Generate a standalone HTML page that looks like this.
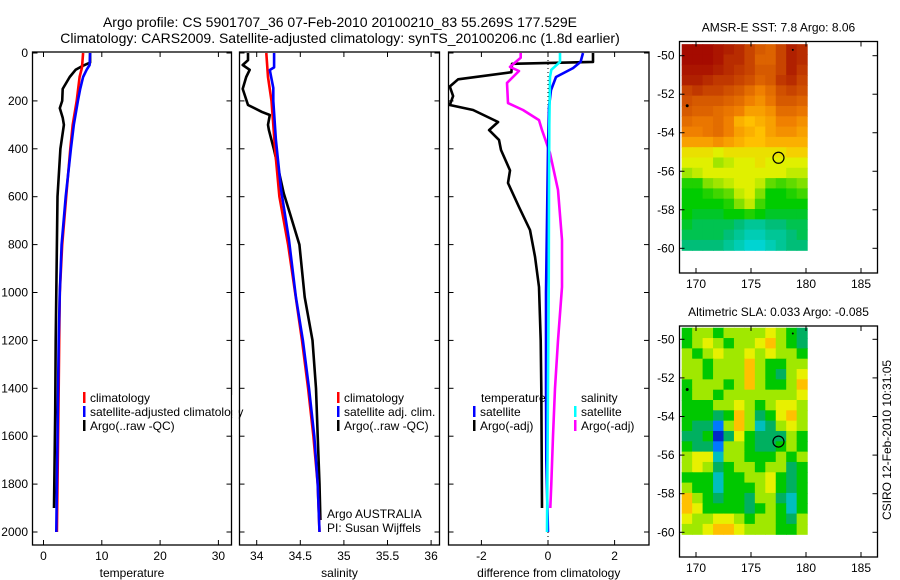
<!DOCTYPE html>
<html><head><meta charset="utf-8">
<style>
body{margin:0;background:#fff;}
svg{display:block;font-family:"Liberation Sans",sans-serif;}
text{fill:#000;}
</style></head>
<body>
<svg id="fig" width="900" height="580" viewBox="0 0 900 580">
<text x="340" y="27" font-size="14" text-anchor="middle">Argo profile: CS 5901707_36 07-Feb-2010 20100210_83 55.269S 177.529E</text>
<text x="340" y="43" font-size="14" text-anchor="middle">Climatology: CARS2009. Satellite-adjusted climatology: synTS_20100206.nc (1.8d earlier)</text>
<g id="g"></g>
</svg>
<script>
// ---------- data ----------
const depthTicks=[0,200,400,600,800,1000,1200,1400,1600,1800,2000];
const tempTicks=[0,10,20,30];
const salTicks=[34,34.5,35,35.5,36];
const diffTicks=[-2,0,2];
const lonTicks=[170,175,180,185];
const latTicks=[-50,-52,-54,-56,-58,-60];

const tClimD=[0,60,100,200,300,400,600,800,1000,1200,1400,1600,1800,2000];
const tClimV=[6.8,6.6,6.2,5.7,5.0,4.6,3.9,3.2,2.8,2.7,2.6,2.5,2.4,2.3];
const tSatD=[0,50,70,100,150,200,300,400,600,800,1000,1200,1400,1600,1800,2000];
const tSatV=[8.0,7.9,7.4,6.8,6.3,5.9,5.2,4.7,3.8,3.1,2.8,2.6,2.5,2.4,2.3,2.2];
const tArgoD=[0,40,55,70,100,150,200,230,270,300,400,600,800,1000,1200,1500,1700,1900];
const tArgoV=[8.0,8.0,6.6,5.5,4.5,3.3,3.2,2.8,3.3,3.5,2.9,2.4,2.3,2.2,2.1,2.0,1.9,1.8];

const sClimD=[0,100,200,300,400,600,800,1000,1200,1400,1600,1800,2000];
const sClimV=[34.11,34.13,34.17,34.19,34.21,34.26,34.36,34.44,34.52,34.59,34.65,34.70,34.72];
const sSatD=[0,60,71,146,200,363,572,781,1019,1200,1400,1600,1800,2000];
const sSatV=[34.20,34.20,34.15,34.19,34.19,34.22,34.28,34.37,34.45,34.53,34.60,34.66,34.70,34.72];
const sArgoD=[0,30,50,70,100,150,217,246,259,300,322,405,585,668,800,1019,1200,1400,1600,1800,1950];
const sArgoV=[33.90,33.90,33.84,33.92,33.88,33.84,33.90,34.06,34.15,34.13,34.14,34.20,34.31,34.38,34.49,34.55,34.64,34.68,34.70,34.72,34.73];

const dTSatD=[0,37,63,100,155,225,400,700,1000,1400,1700,2000];
const dTSatV=[1.05,0.98,0.75,0.24,0.09,0.03,0.0,-0.03,-0.06,-0.06,-0.05,0.0];
const dTArgoD=[0,37,45,80,110,140,180,217,238,288,322,363,405,490,543,643,739,850,977,1200,1400,1900];
const dTArgoV=[1.35,1.35,-1.08,-1.1,-2.7,-2.95,-2.85,-2.95,-2.25,-1.5,-1.77,-1.47,-1.41,-1.14,-1.2,-0.87,-0.54,-0.39,-0.27,-0.22,-0.2,-0.18];
const dSSatD=[0,37,70,100,300,600,1000,1400,2000];
const dSSatV=[0.36,0.36,0.1,0.06,0.04,0.03,0.02,0.0,-0.03];
const dSArgoD=[0,20,58,75,125,209,238,280,322,418,572,781,977,1200,1400,1600,1800,1900];
const dSArgoV=[-0.82,-0.82,-1.14,-0.87,-1.23,-1.2,-0.75,-0.27,-0.18,0.06,0.3,0.42,0.42,0.3,0.21,0.15,0.1,0.07];

const sstGrid=[
[9.5,9.5,9.5,9.4,9.3,9.2,9.0,8.8,8.7,9.0,9.3,9.2],
[9.5,9.5,9.5,9.4,9.2,9.2,9.0,8.7,8.7,9.0,9.3,9.2],
[9.4,9.4,9.4,9.3,9.2,9.1,9.0,8.8,8.8,9.0,9.3,9.1],
[9.3,9.3,9.2,9.1,9.1,9.0,8.9,8.7,8.8,9.1,9.2,9.0],
[9.0,9.1,9.0,9.0,8.9,8.8,8.6,8.4,8.6,8.9,9.0,8.9],
[8.9,8.8,8.8,8.8,8.7,8.6,8.4,8.3,8.5,8.8,8.8,8.7],
[8.8,8.7,8.7,8.6,8.5,8.4,8.2,8.2,8.3,8.6,8.6,8.5],
[8.6,8.5,8.5,8.6,8.4,8.1,8.0,8.1,8.2,8.4,8.4,8.3],
[8.4,8.4,8.5,8.6,8.4,8.2,8.1,8.0,8.2,8.3,8.3,8.2],
[8.2,8.2,8.2,8.3,8.2,8.1,8.0,8.0,8.1,8.1,8.1,8.1],
[7.8,7.8,7.8,7.7,7.8,7.8,7.8,7.8,7.8,7.8,7.9,7.9],
[7.7,7.7,7.7,7.5,7.6,7.7,7.7,7.8,7.7,7.7,7.7,7.7],
[7.5,7.6,7.7,7.7,7.7,7.7,7.7,7.7,7.7,7.7,7.6,7.6],
[7.1,7.1,7.4,7.5,7.6,7.7,7.7,7.6,7.3,7.2,7.3,7.4],
[7.0,7.0,7.1,7.2,7.3,7.6,7.7,7.4,7.0,7.0,7.1,7.2],
[7.0,7.0,7.0,7.0,7.1,7.4,7.6,7.2,7.0,7.0,7.0,7.0],
[7.0,6.9,6.9,6.9,7.0,7.0,7.1,7.0,6.9,6.9,6.9,6.9],
[6.9,6.8,6.8,6.8,6.8,6.7,6.6,6.6,6.7,6.7,6.8,6.8],
[6.8,6.8,6.8,6.8,6.7,6.6,6.5,6.5,6.6,6.6,6.7,6.8],
[6.7,6.7,6.7,6.7,6.6,6.5,6.4,6.4,6.5,6.6,6.7,6.7]];
const slaGrid=[
[0,1,1,0,1,1,1,1,2,1,0,-1],
[0,1,2,1,0,1,1,2,3,1,0,-1],
[1,0,1,2,1,1,2,1,2,1,1,0],
[1,1,0,1,1,1,3,1,0,0,1,1],
[1,1,0,1,1,1,3,1,0,-1,1,2],
[0,1,1,1,0,1,3,1,0,0,1,3],
[0,1,1,0,1,1,1,1,1,1,1,2],
[0,0,0,1,1,2,1,0,1,2,2,1],
[0,0,0,-1,0,3,1,-1,0,2,3,1],
[0,-1,-1,-3,1,3,1,-2,-1,1,2,1],
[-1,-1,0,-4,-1,2,0,-1,-1,-1,1,0],
[0,-1,-1,-3,1,1,0,-1,-1,0,1,0],
[1,2,2,-2,1,1,0,0,0,1,0,1],
[1,2,1,-1,0,1,1,0,1,1,-1,0],
[0,0,0,-2,0,0,1,1,2,0,-1,0],
[1,0,0,-2,0,0,0,1,2,0,-1,0],
[3,1,0,-1,0,0,-1,1,1,-1,-2,0],
[3,2,0,0,0,0,-1,0,1,0,-2,0],
[2,1,1,2,2,1,0,1,1,0,-1,1],
[1,1,2,3,3,2,1,1,1,0,0,1]];
const gridLon=[168.7,180.1];
const gridLat=[-49.4,-60.1];
const argoLon=177.5, argoLat=-55.3;

// ---------- helpers ----------
const NS='http://www.w3.org/2000/svg';
const G=document.getElementById('g');
function mk(tag,attrs,parent){const e=document.createElementNS(NS,tag);for(const k in attrs)e.setAttribute(k,attrs[k]);(parent||G).appendChild(e);return e;}
function txt(x,y,s,size,anchor,parent){const t=mk('text',{x:x,y:y,'font-size':size,'text-anchor':anchor||'start'},parent);t.textContent=s;return t;}
const yD=d=>53+0.2395*d;
const PT=52,PB=545;

function panel(name,x0,x1,xf,ticks,fmt,label){
  const g=mk('g',{});
  
  
  const fr=mk('rect',{x:x0,y:PT,width:x1-x0,height:PB-PT,fill:'none',stroke:'#000','stroke-width':1.3},g);
  
  
  ticks.forEach(v=>{const x=xf(v);
    mk('line',{x1:x,y1:PB,x2:x,y2:PB-5,stroke:'#000'},g);
    mk('line',{x1:x,y1:PT,x2:x,y2:PT+5,stroke:'#000'},g);
    const t=txt(x,560,fmt(v),12,'middle',g);
    
    
  });
  depthTicks.forEach(d=>{const y=yD(d);
    mk('line',{x1:x0,y1:y,x2:x0+5,y2:y,stroke:'#000'},g);
    mk('line',{x1:x1,y1:y,x2:x1-5,y2:y,stroke:'#000'},g);
  });
  const l=txt((x0+x1)/2,577,label,12,'middle',g);
  
  
  return g;
}
function series(g,name,D,V,xf,color,w){
  let p='';
  D.forEach((d,i)=>{p+=(i?'L':'M')+xf(V[i]).toFixed(1)+' '+yD(d).toFixed(1);});
  const e=mk('path',{d:p,fill:'none',stroke:color,'stroke-width':w||2.6,'stroke-linejoin':'round'},g);
  
  
}
function legend(g,x,y,color,label,name){
  if(color){const b=mk('rect',{x:x,y:y-10,width:2.5,height:11,fill:color},g);
    
    }
  const t=txt(x+7,y,label,12,'start',g);
  
  
}

// depth labels
depthTicks.forEach(d=>{const t=txt(28,yD(d)+4,String(d),12,'end');
  
  });

// temperature
const xT=v=>43.5+5.83*v;
const gT=panel('temperature',32.5,231.5,xT,tempTicks,String,'temperature');
series(gT,'temp-argo-line',tArgoD,tArgoV,xT,'#000');
series(gT,'temp-climatology-line',tClimD,tClimV,xT,'#f00');
series(gT,'temp-satellite-line',tSatD,tSatV,xT,'#00f');
legend(gT,83,402,'#f00','climatology','temp-legend-climatology');
legend(gT,83,416,'#00f','satellite-adjusted climatology','temp-legend-satellite');
legend(gT,83,430,'#000','Argo(..raw -QC)','temp-legend-argo');
mk('rect',{x:232.2,y:395,width:6.6,height:40,fill:'#fff'},G);

// salinity
const xS=v=>256.7+87.2*(v-34);
const gS=panel('salinity',239.5,439.5,xS,salTicks,String,'salinity');
series(gS,'sal-argo-line',sArgoD,sArgoV,xS,'#000');
series(gS,'sal-climatology-line',sClimD,sClimV,xS,'#f00');
series(gS,'sal-satellite-line',sSatD,sSatV,xS,'#00f');
legend(gS,337,402,'#f00','climatology','sal-legend-climatology');
legend(gS,337,416,'#00f','satellite adj. clim.','sal-legend-satellite');
legend(gS,337,430,'#000','Argo(..raw -QC)','sal-legend-argo');
legend(gS,320,518,null,'Argo AUSTRALIA','argo-australia-note');
legend(gS,320,532,null,'PI: Susan Wijffels','pi-note');

// difference
const xDf=v=>548+33.3*v;
const gD=panel('difference',448.5,649,xDf,diffTicks,String,'difference from climatology');
const zl=mk('line',{x1:xDf(0),y1:PT,x2:xDf(0),y2:PB,stroke:'#000','stroke-dasharray':'1,3'},gD);


series(gD,'diff-temp-argo-line',dTArgoD,dTArgoV,xDf,'#000');
series(gD,'diff-sal-argo-line',dSArgoD,dSArgoV,xDf,'#f0f');
series(gD,'diff-temp-satellite-line',dTSatD,dTSatV,xDf,'#00f');
series(gD,'diff-sal-satellite-line',dSSatD,dSSatV,xDf,'#0ff');
legend(gD,474,402,null,'temperature','diff-legend-temperature-header');
legend(gD,473,416,'#00f','satellite','diff-legend-temp-satellite');
legend(gD,473,430,'#000','Argo(-adj)','diff-legend-temp-argo');
legend(gD,574,402,null,'salinity','diff-legend-salinity-header');
legend(gD,574,416,'#0ff','satellite','diff-legend-sal-satellite');
legend(gD,574,430,'#f0f','Argo(-adj)','diff-legend-sal-argo');

// ---------- maps ----------
function lerpColor(stops,v){
  if(v<=stops[0][0])return stops[0][1];
  for(let i=1;i<stops.length;i++){if(v<=stops[i][0]){const a=stops[i-1],b=stops[i];const t=(v-a[0])/(b[0]-a[0]);
    const c=a[1].map((x,k)=>Math.round(x+(b[1][k]-x)*t));return c;}}
  return stops[stops.length-1][1];
}
const sstStops=[[6.3,[0,220,240]],[6.7,[0,190,120]],[7.0,[0,204,0]],[7.4,[128,224,0]],[7.7,[224,240,0]],[8.0,[255,192,0]],[8.4,[240,128,0]],[8.9,[208,80,0]],[9.3,[176,32,0]],[9.6,[160,0,0]]];
const slaStops=[[-4,[0,40,200]],[-3,[0,120,255]],[-2,[0,190,190]],[-1,[0,176,96]],[0,[0,200,0]],[1,[160,232,0]],[2,[232,240,0]],[3,[255,192,0]],[4,[240,144,0]]];

function map(name,top,bottom,lat50y,lat60y,grid,stops,title){
  const L=679.5,R=877.5;
  const xL=lon=>696+11.0*(lon-170);
  const yL=lat=>lat50y+(lat60y-lat50y)*(lat+50)/(-10);
  const g=mk('g',{});
  
  
  const rows=grid.length,cols=grid[0].length;
  const gx0=xL(gridLon[0]),gx1=xL(gridLon[1]),gy0=yL(gridLat[0]),gy1=yL(gridLat[1]);
  const cw=(gx1-gx0)/cols,ch=(gy1-gy0)/rows;
  for(let r=0;r<rows;r++)for(let c=0;c<cols;c++){
    const col=lerpColor(stops,grid[r][c]);
    const cell=mk('rect',{x:(gx0+c*cw).toFixed(2),y:(gy0+r*ch).toFixed(2),width:(cw+0.6).toFixed(2),height:(ch+0.6).toFixed(2),fill:'rgb('+col.join(',')+')'},g);
    
    
  }
  const fr=mk('rect',{x:L,y:top,width:R-L,height:bottom-top,fill:'none',stroke:'#000','stroke-width':1.3},g);
  
  
  lonTicks.forEach(lon=>{const x=xL(lon);
    mk('line',{x1:x,y1:bottom,x2:x,y2:bottom-5,stroke:'#000'},g);
    mk('line',{x1:x,y1:top,x2:x,y2:top+5,stroke:'#000'},g);
    const t=txt(x,bottom+15,String(lon),12,'middle',g);
    
    });
  latTicks.forEach(lat=>{const y=yL(lat);
    mk('line',{x1:L,y1:y,x2:L+5,y2:y,stroke:'#000'},g);
    mk('line',{x1:R,y1:y,x2:R-5,y2:y,stroke:'#000'},g);
    const t=txt(L-5,y+4,String(lat),12,'end',g);
    
    });
  const ci=mk('circle',{cx:xL(argoLon),cy:yL(argoLat),r:5.5,fill:'none',stroke:'#000','stroke-width':1.2},g);
  
  
  mk('circle',{cx:xL(169.2),cy:yL(-52.6),r:1.5,fill:'#000'},g);
  mk('circle',{cx:xL(178.8),cy:yL(-49.7),r:1,fill:'#000'},g);
  const t=txt((L+R)/2,top-10,title,12,'middle',g);
  
  
}
map('sst',41.5,273,55.7,248.3,sstGrid,sstStops,'AMSR-E SST: 7.8 Argo: 8.06');
map('sla',326,557,339.3,532.3,slaGrid,slaStops,'Altimetric SLA: 0.033 Argo: -0.085');

const cs=txt(0,0,'CSIRO 12-Feb-2010 10:31:05',12,'middle');
cs.setAttribute('transform','translate(891,440) rotate(-90)');


</script>
</body></html>
